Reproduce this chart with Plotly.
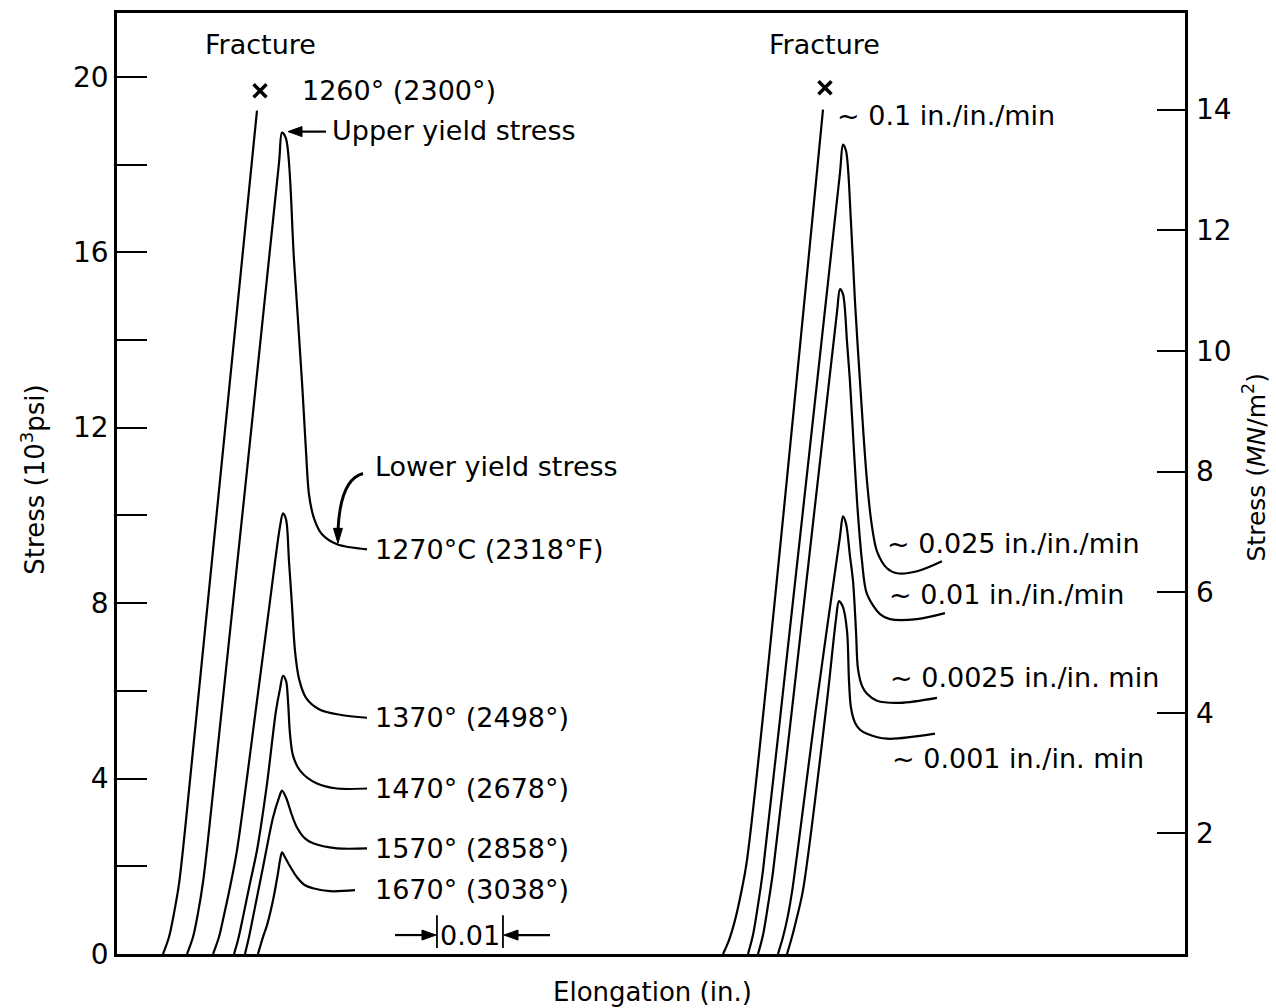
import plotly.graph_objects as go

# ---------------- data (elongation in inches, stress in 10^3 psi) ----------------
# Left group: temperature series
elong_1260 = [0.00697, 0.00788, 0.00864, 0.00939, 0.01030, 0.02121]
stress_1260 = [0, 0.386, 0.932, 1.591, 2.818, 19.227]

elong_1270 = [0.01061, 0.01152, 0.01227, 0.01303, 0.01394, 0.02455, 0.02500, 0.02561, 0.02682,
              0.02803, 0.02864, 0.02909, 0.02985, 0.03106, 0.03333, 0.03788]
stress_1270 = [0, 0.386, 0.932, 1.636, 2.818, 18.045, 18.727, 18.591, 15.818,
               13.045, 11.455, 10.477, 9.932, 9.568, 9.341, 9.227]

elong_1370 = [0.01455, 0.01545, 0.01621, 0.01712, 0.01818, 0.02121, 0.02318, 0.02470, 0.02515,
              0.02561, 0.02606, 0.02652, 0.02697, 0.02758, 0.02864, 0.03076, 0.03379, 0.03788]
stress_1370 = [0, 0.386, 0.886, 1.523, 2.364, 5.773, 8.045, 9.750, 10.045,
               9.909, 8.955, 7.932, 6.909, 6.273, 5.841, 5.568, 5.455, 5.386]

elong_1470 = [0.01773, 0.01833, 0.01909, 0.02015, 0.02121, 0.02273, 0.02409, 0.02470, 0.02515,
              0.02561, 0.02591, 0.02621, 0.02667, 0.02773, 0.03030, 0.03333, 0.03788]
stress_1470 = [0, 0.318, 0.841, 1.614, 2.364, 3.886, 5.545, 6.045, 6.341,
               6.227, 5.773, 5.023, 4.523, 4.182, 3.886, 3.773, 3.773]

elong_1570 = [0.01939, 0.02000, 0.02061, 0.02212, 0.02364, 0.02455, 0.02500, 0.02561, 0.02652,
              0.02727, 0.02848, 0.02970, 0.03333, 0.03788]
stress_1570 = [0, 0.386, 0.841, 1.977, 3.114, 3.568, 3.727, 3.568, 3.159,
               2.886, 2.636, 2.523, 2.409, 2.409]

elong_1670 = [0.02136, 0.02212, 0.02273, 0.02364, 0.02439, 0.02470, 0.02500, 0.02545, 0.02621,
              0.02727, 0.02848, 0.02970, 0.03227, 0.03606]
stress_1670 = [0, 0.386, 0.659, 1.227, 1.841, 2.136, 2.318, 2.205, 2.000,
               1.750, 1.568, 1.500, 1.432, 1.455]

# Right group: strain-rate series
elong_r01 = [0.09182, 0.09273, 0.09364, 0.09455, 0.09545, 0.10697]
stress_r01 = [0, 0.318, 0.773, 1.386, 2.136, 19.25]

elong_r025 = [0.09561, 0.09636, 0.09712, 0.09788, 0.10076, 0.10955, 0.11000, 0.11045, 0.11121,
              0.11182, 0.11258, 0.11364, 0.11439, 0.11515, 0.11667, 0.11818, 0.12121, 0.12500]
stress_r025 = [0, 0.432, 1.114, 1.909, 5.773, 17.818, 18.455, 18.318, 16.682,
               14.864, 13.045, 10.773, 9.750, 9.182, 8.795, 8.682, 8.727, 8.955]

elong_r01b = [0.09712, 0.09788, 0.09864, 0.09939, 0.10242, 0.10909, 0.10955, 0.11000, 0.11061,
              0.11106, 0.11167, 0.11227, 0.11288, 0.11364, 0.11561, 0.11712, 0.12121, 0.12545]
stress_r01b = [0, 0.432, 1.114, 1.864, 5.773, 14.636, 15.159, 15.045, 13.955,
               13.045, 11.455, 10.023, 8.955, 8.205, 7.750, 7.636, 7.636, 7.773]

elong_r0025 = [0.10015, 0.10091, 0.10167, 0.10227, 0.10606, 0.10955, 0.11000, 0.11045, 0.11106,
               0.11152, 0.11197, 0.11227, 0.11288, 0.11364, 0.11515, 0.11864, 0.12424]
stress_r0025 = [0, 0.386, 0.886, 1.409, 5.773, 9.523, 9.977, 9.818, 9.068,
                8.5, 7.364, 6.5, 6.114, 5.932, 5.773, 5.727, 5.841]

elong_r001 = [0.10152, 0.10227, 0.10303, 0.10394, 0.10758, 0.10894, 0.10939, 0.11000, 0.11061,
              0.11091, 0.11121, 0.11182, 0.11258, 0.11364, 0.11667, 0.12394]
stress_r001 = [0, 0.386, 0.841, 1.455, 5.773, 7.636, 8.045, 7.909, 7.364,
               6.227, 5.614, 5.273, 5.114, 5.023, 4.909, 5.023]

fracture_x = [0.02167, 0.10727]
fracture_y = [19.68, 19.75]

left_ticks = [0, 4, 8, 12, 16, 20]
right_ticks = [2, 4, 6, 8, 10, 12, 14]

FONT = "DejaVu Sans"
LBL = 27

fig = go.Figure()

curves = [
    (elong_1260, stress_1260), (elong_1270, stress_1270), (elong_1370, stress_1370),
    (elong_1470, stress_1470), (elong_1570, stress_1570), (elong_1670, stress_1670),
    (elong_r01, stress_r01), (elong_r025, stress_r025), (elong_r01b, stress_r01b),
    (elong_r0025, stress_r0025), (elong_r001, stress_r001),
]
for xs, ys in curves:
    fig.add_trace(go.Scatter(x=xs, y=ys, mode="lines",
                             line=dict(color="black", width=2.2, shape="spline", smoothing=0.9),
                             showlegend=False, hoverinfo="skip"))

fig.add_trace(go.Scatter(x=fracture_x, y=fracture_y, mode="markers",
                         marker=dict(symbol="x-thin", size=13, line=dict(color="black", width=3.5)),
                         showlegend=False, hoverinfo="skip"))

# invisible trace to activate right axis
fig.add_trace(go.Scatter(x=[0], y=[0], yaxis="y2", mode="lines", opacity=0,
                         showlegend=False, hoverinfo="skip"))

ann = []
def txt(x, y, s, xanchor="left", size=LBL):
    ann.append(dict(x=x, y=y, xref="x", yref="y", text=s, showarrow=False,
                    xanchor=xanchor, yanchor="middle",
                    font=dict(family=FONT, size=size, color="black")))

txt(0.02167, 20.727, "Fracture", "center")
txt(0.10727, 20.727, "Fracture", "center")
txt(0.02773, 19.68, "1260° (2300°)")
txt(0.03227, 18.77, "Upper yield stress")
txt(0.03879, 11.11, "Lower yield stress")
txt(0.03879, 9.227, "1270°C (2318°F)")
txt(0.03879, 5.386, "1370° (2498°)")
txt(0.03879, 3.773, "1470° (2678°)")
txt(0.03879, 2.409, "1570° (2858°)")
txt(0.03879, 1.477, "1670° (3038°)")
txt(0.10879, 19.11, "~ 0.1 in./in./min")
txt(0.11636, 9.364, "~ 0.025 in./in./min")
txt(0.11667, 8.205, "~ 0.01 in./in./min")
txt(0.11682, 6.295, "~ 0.0025 in./in. min")
txt(0.11712, 4.455, "~ 0.001 in./in. min")
txt(0.05348, 0.432, "0.01", "center")

# axis titles
ann.append(dict(x=0.501, y=-0.0403, xref="paper", yref="paper", text="Elongation (in.)",
                showarrow=False, xanchor="center", yanchor="middle",
                font=dict(family=FONT, size=26, color="black")))
ann.append(dict(x=-0.0787, y=0.504, xref="paper", yref="paper", text="Stress (10<sup>3</sup>psi)",
                showarrow=False, textangle=-90, xanchor="center", yanchor="middle",
                font=dict(family=FONT, size=26, color="black")))
ann.append(dict(x=1.0655, y=0.518, xref="paper", yref="paper",
                text="Stress (<i>MN</i>/m<sup>2</sup>)",
                showarrow=False, textangle=-90, xanchor="center", yanchor="middle",
                font=dict(family=FONT, size=25, color="black")))

BLK = dict(color="black", width=2.2)
shapes = [
    # curved "lower yield" pointer + arrowhead
    dict(type="path", xref="x", yref="y",
         path="M 0.03727,10.955 Q 0.03379,10.818 0.03348,9.636",
         line=dict(color="black", width=3)),
    dict(type="path", xref="x", yref="y",
         path="M 0.03348,9.364 L 0.03280,9.705 L 0.03416,9.705 Z",
         fillcolor="black", line=dict(color="black", width=1)),
    # "upper yield" pointer
    dict(type="line", xref="x", yref="y", x0=0.02773, x1=0.03167, y0=18.75, y1=18.75, line=BLK),
    dict(type="path", xref="x", yref="y",
         path="M 0.02591,18.75 L 0.02803,18.864 L 0.02803,18.636 Z",
         fillcolor="black", line=dict(color="black", width=1)),
    # scale bar 0.01 in.
    dict(type="line", xref="x", yref="y", x0=0.04848, x1=0.04848, y0=0.136, y1=0.886,
         line=dict(color="black", width=1.8)),
    dict(type="line", xref="x", yref="y", x0=0.05848, x1=0.05848, y0=0.136, y1=0.886,
         line=dict(color="black", width=1.8)),
    dict(type="line", xref="x", yref="y", x0=0.04212, x1=0.04652, y0=0.432, y1=0.432, line=BLK),
    dict(type="path", xref="x", yref="y",
         path="M 0.04833,0.432 L 0.04621,0.546 L 0.04621,0.318 Z",
         fillcolor="black", line=dict(color="black", width=1)),
    dict(type="line", xref="x", yref="y", x0=0.06045, x1=0.06561, y0=0.432, y1=0.432, line=BLK),
    dict(type="path", xref="x", yref="y",
         path="M 0.05864,0.432 L 0.06076,0.546 L 0.06076,0.318 Z",
         fillcolor="black", line=dict(color="black", width=1)),
]

fig.update_layout(
    width=1276, height=1008,
    margin=dict(l=117, r=91, t=10, b=54, pad=0),
    paper_bgcolor="white", plot_bgcolor="white",
    font=dict(family=FONT, color="black"),
    xaxis=dict(range=[0, 0.16182], showline=True, mirror=True, linecolor="black", linewidth=2.5,
               showticklabels=False, ticks="", showgrid=False, zeroline=False),
    yaxis=dict(range=[0, 21.4545], tickvals=left_ticks, ticks="inside", ticklen=30, tickwidth=2,
               tickcolor="black", showline=True, mirror=True, linecolor="black", linewidth=2.5,
               minor=dict(dtick=2, tick0=0, ticks="inside", ticklen=30, tickwidth=2,
                          tickcolor="black", showgrid=False),
               tickfont=dict(family=FONT, size=28, color="black"),
               showgrid=False, zeroline=False),
    yaxis2=dict(overlaying="y", side="right", range=[0, 15.603], tickvals=right_ticks,
                ticks="inside", ticklen=28, tickwidth=2, tickcolor="black", showline=False,
                tickfont=dict(family=FONT, size=28, color="black"), ticklabelstandoff=10,
                showgrid=False, zeroline=False),
    annotations=ann,
    shapes=shapes,
    showlegend=False,
)

fig.write_html("out.html")
